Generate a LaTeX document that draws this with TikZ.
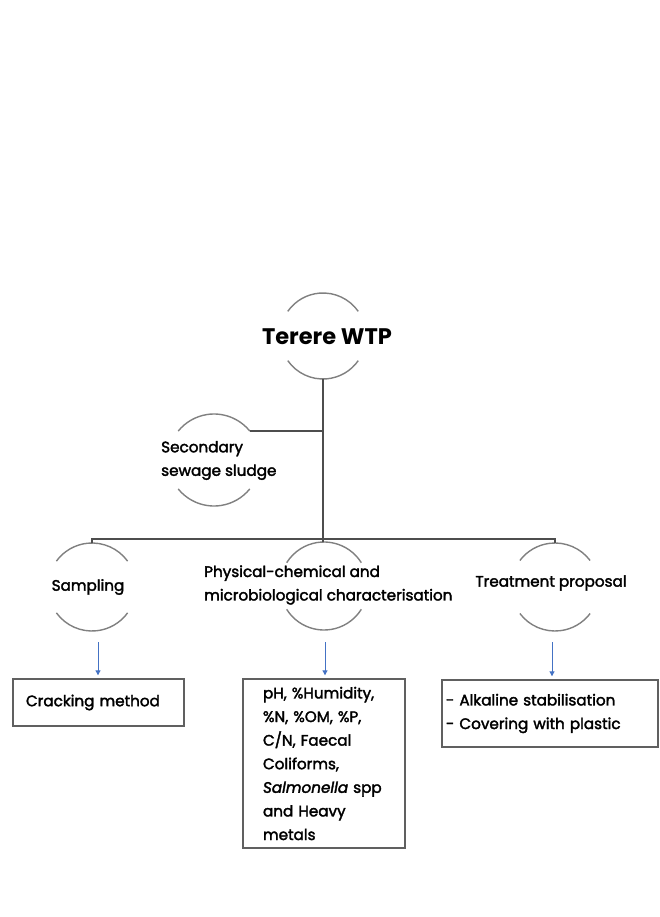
\documentclass[tikz,border=0pt]{standalone}
\usepackage{fontspec}
\setmainfont{Poppins}[FakeBold=2.2]
\newfontfamily\titlefont{Poppins}
\usetikzlibrary{arrows.meta,calc}
\definecolor{linegray}{HTML}{4D4D4D}
\definecolor{boxgray}{HTML}{606060}
\definecolor{arcgray}{HTML}{808080}
\definecolor{arrowblue}{HTML}{4472C4}
\tikzset{
  lbl/.style={font=\fontsize{15.2}{23.5}\selectfont, inner sep=0pt, align=left, text=black},
  titlelbl/.style={font=\titlefont\fontsize{22.5}{26}\selectfont\bfseries, inner sep=0pt, text=black},
  boxed/.style={draw=boxgray, line width=1.4pt, align=left, font=\fontsize{15.2}{23.6}\selectfont},
  arcline/.style={draw=arcgray, line width=1.4pt},
  conn/.style={draw=linegray, line width=1.6pt},
  trunk/.style={draw=linegray, line width=2.6pt},
  bluearrow/.style={draw=arrowblue, line width=1pt, -{Triangle[length=5pt,width=5pt]}, shorten >=3pt},
}
\newcommand{\halfcircles}[3]{%
  \draw[arcline] ($(#1)+({90-#3}:#2pt)$) arc[start angle={90-#3}, end angle={90+#3}, radius=#2pt];
  \draw[arcline] ($(#1)+({270-#3}:#2pt)$) arc[start angle={270-#3}, end angle={270+#3}, radius=#2pt];
}
\begin{document}
\begin{tikzpicture}[x=1pt,y=-1pt]
\useasboundingbox (0,0) rectangle (659,917);

% circle centres
\coordinate (cwtp) at (323,336);
\coordinate (csec) at (214,460);
\coordinate (csamp) at (92,587);
\coordinate (cphys) at (324,586);
\coordinate (ctreat) at (555,587);

% labels
\node[titlelbl] (wtp) at (327,337) {Terere WTP};
\node[lbl, anchor=west] (sec) at (161,460.5) {Secondary\\sewage sludge};
\node[lbl] (samp) at (88,587) {Sampling};
\node[lbl, anchor=west] (phys) at (204,585) {Physical-chemical and\\microbiological characterisation};
\node[lbl] (treat) at (551,583) {Treatment proposal};

% half circles
\halfcircles{cwtp}{43}{55}
\halfcircles{csec}{46}{51}
\halfcircles{csamp}{44}{54}
\halfcircles{cphys}{44}{58}
\halfcircles{ctreat}{44}{53}

% connector points
\coordinate (wtpb) at (323,379);
\coordinate (j) at (323,539);
\coordinate (secr) at (249.7,431);
\coordinate (samptop) at (92,543);
\coordinate (phystop) at (323,542);
\coordinate (treattop) at (555,543);

\draw[trunk] (wtpb) -- (j);
\draw[conn] (secr) -- (secr -| wtpb);
\draw[conn] (samptop) |- (j) -| (treattop);
\draw[conn] (j) -- (phystop);

% boxes
\node[boxed, minimum width=171pt, minimum height=47pt, text width=145pt, inner xsep=13pt, inner ysep=0pt] (box1) at (98.5,702.5) {Cracking method};
\node[boxed, minimum width=162pt, minimum height=169pt, text width=122pt, inner xsep=20pt, inner ysep=0pt] (box2) at (324,763.5)
  {pH, \%Humidity,\\\%N, \%OM, \%P,\\C/N, Faecal\\Coliforms,\\\textit{Salmonella} spp\\and Heavy\\metals};
\node[boxed, minimum width=216pt, minimum height=67pt, text width=208pt, inner xsep=4pt, inner ysep=0pt] (box3) at (550,713.5)
  {- Alkaline stabilisation\\- Covering with plastic};

% arrows
\coordinate (a1) at (98,642);
\coordinate (a2) at (325,642);
\coordinate (a3) at (552,642);
\draw[bluearrow] (a1) -- (a1 |- box1.north);
\draw[bluearrow] (a2) -- (a2 |- box2.north);
\draw[bluearrow] (a3) -- (a3 |- box3.north);
\end{tikzpicture}
\end{document}
